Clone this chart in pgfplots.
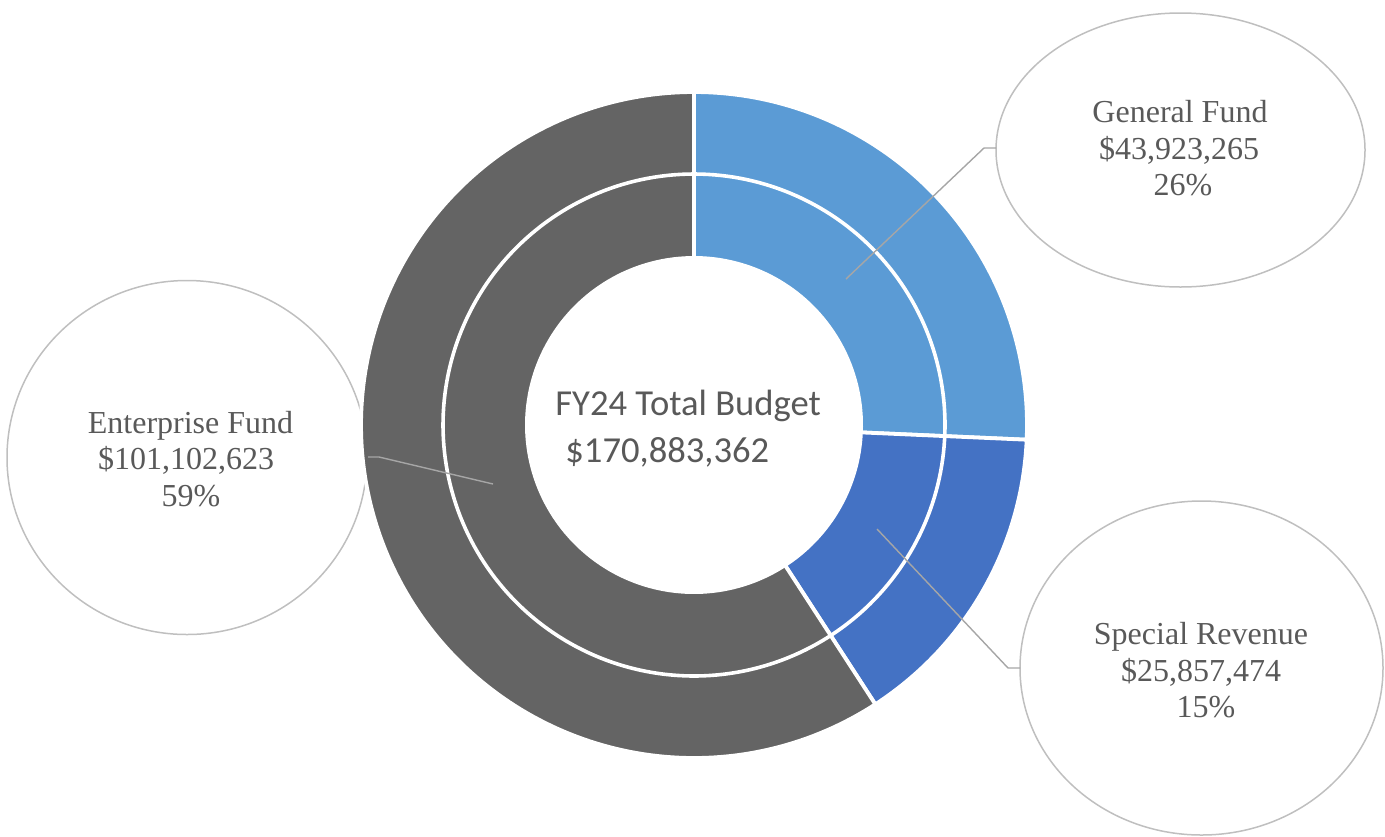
\documentclass[border=0pt]{standalone}
\usepackage{pgfplots}
\pgfplotsset{compat=1.18}
\usepackage{fontspec}
\setmainfont{Liberation Serif}
\newfontfamily\calibri{Carlito}
\definecolor{cGen}{HTML}{5B9BD5}
\definecolor{cSpec}{HTML}{4472C4}
\definecolor{cEnt}{HTML}{646464}
\definecolor{txt}{HTML}{595959}
\definecolor{ell}{HTML}{BFBFBF}
\definecolor{lead}{HTML}{A6A6A6}
% fund values in millions of dollars
\def\vGen{43.923265}
\def\vSpec{25.857474}
\def\vEnt{101.102623}
\pgfmathsetmacro{\vTot}{\vGen+\vSpec+\vEnt}
\pgfmathsetmacro{\aA}{360*\vGen/\vTot}
\pgfmathsetmacro{\aB}{\aA+360*\vSpec/\vTot}
\def\cx{694}\def\cy{425}\def\Ro{333}\def\Rm{251}\def\Ri{169}
\begin{document}
\begin{tikzpicture}
\useasboundingbox (0,0) rectangle (692.5pt,418pt);
\begin{axis}[at={(0,0)},anchor=south west,scale only axis,width=692.5pt,height=418pt,
  xmin=0,xmax=1385,ymin=0,ymax=836,y dir=reverse,hide axis,clip=true]
% callout ellipses
\draw[ell,line width=0.75pt] (axis cs:1180.5,150) ellipse [x radius=92.25pt,y radius=68.5pt];
\draw[ell,line width=0.75pt] (axis cs:187,457.5) ellipse [x radius=90pt,y radius=88.5pt];
\draw[ell,line width=0.75pt] (axis cs:1201.5,668) ellipse [x radius=90.75pt,y radius=83.5pt];
% wedges
\addplot[fill=cGen,draw=white,line width=1.9pt,domain=0:\aA,samples=90,variable=\t]
  ({\cx+\Ro*sin(\t)},{\cy-\Ro*cos(\t)}) -- (axis cs:\cx,\cy) -- cycle;
\addplot[fill=cSpec,draw=white,line width=1.9pt,domain=\aA:\aB,samples=60,variable=\t]
  ({\cx+\Ro*sin(\t)},{\cy-\Ro*cos(\t)}) -- (axis cs:\cx,\cy) -- cycle;
\addplot[fill=cEnt,draw=white,line width=1.9pt,domain=\aB:360,samples=180,variable=\t]
  ({\cx+\Ro*sin(\t)},{\cy-\Ro*cos(\t)}) -- (axis cs:\cx,\cy) -- cycle;
% ring separator and hole
\addplot[draw=white,line width=1.8pt,domain=0:360,samples=240,variable=\t]
  ({\cx+\Rm*sin(\t)},{\cy-\Rm*cos(\t)});
\addplot[fill=white,draw=none,domain=0:360,samples=200,variable=\t]
  ({\cx+\Ri*sin(\t)},{\cy-\Ri*cos(\t)}) -- cycle;
% leader lines
\addplot[lead,line width=0.7pt] coordinates {(846,279) (984,148) (996,148)};
\addplot[lead,line width=0.7pt] coordinates {(493,484) (379,457) (368,457)};
\addplot[lead,line width=0.7pt] coordinates {(877,529) (1008,668) (1020,668)};
% centre text
\node[anchor=base west,inner sep=0pt,text=txt,font=\calibri\fontsize{18.3pt}{22pt}\selectfont] at (axis cs:555,415) {FY24 Total Budget};
\node[anchor=base west,inner sep=0pt,text=txt,font=\calibri\fontsize{18.3pt}{22pt}\selectfont] at (axis cs:565,462) {\$170,883,362};
% labels
\tikzset{lab/.style={anchor=base,inner sep=0pt,text=txt,font=\fontsize{16pt}{19pt}\selectfont}}
\node[lab] at (axis cs:1180,122) {General Fund};
\node[lab] at (axis cs:1179,159) {\$43,923,265};
\node[lab] at (axis cs:1183,195) {26\%};
\node[lab] at (axis cs:190.5,433) {Enterprise Fund};
\node[lab] at (axis cs:186,469) {\$101,102,623};
\node[lab] at (axis cs:191,506) {59\%};
\node[lab] at (axis cs:1201,644) {Special Revenue};
\node[lab] at (axis cs:1201,681) {\$25,857,474};
\node[lab] at (axis cs:1206,717) {15\%};
\end{axis}
\end{tikzpicture}
\end{document}
